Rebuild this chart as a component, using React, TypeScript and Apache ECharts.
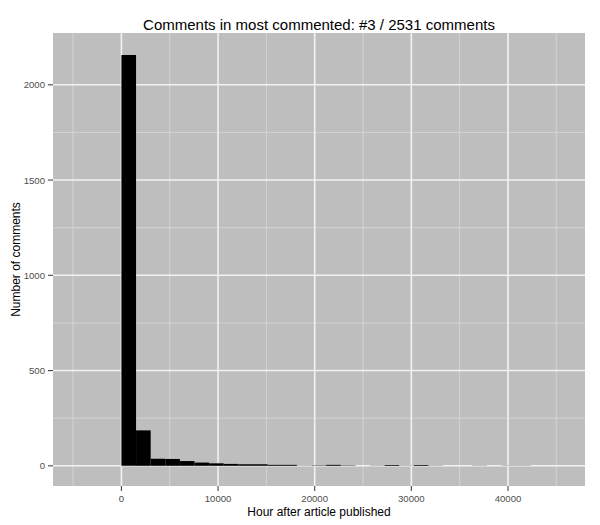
import React, { useEffect, useRef } from "react";
import * as echarts from "echarts";

const TITLE = "Comments in most commented: #3 / 2531 comments";
const X_TITLE = "Hour after article published";
const Y_TITLE = "Number of comments";

const BIN_WIDTH = 1513;
const COUNTS = [2157, 186, 37, 36, 25, 17, 13, 10, 8, 8, 5, 5, 1, 2, 5, 2, 0, 1, 4, 1, 4, 1, 0, 0, 1, 0, 1, 1];

const X_BREAKS = [0, 10000, 20000, 30000, 40000];
const X_MINOR = [-5000, 5000, 15000, 25000, 35000, 45000];
const Y_BREAKS = [0, 500, 1000, 1500, 2000];
const Y_MINOR = [250, 750, 1250, 1750];

const X_MIN = -7080;
const X_MAX = 47970;
const Y_MIN = -106;
const Y_MAX = 2272;

const FONT = "'Liberation Sans', Arial, Helvetica, sans-serif";

export default function App() {
  const ref = useRef<HTMLDivElement>(null);
  useEffect(() => {
    if (!ref.current) return;
    const chart = echarts.init(ref.current, undefined, { renderer: "svg" });

    const bins = COUNTS.map((c, i) => [i * BIN_WIDTH, (i + 1) * BIN_WIDTH, c]);
    const gridData: number[][] = [
      ...X_MINOR.map((v) => [0, v, 0]),
      ...Y_MINOR.map((v) => [1, v, 0]),
      ...X_BREAKS.map((v) => [0, v, 1]),
      ...Y_BREAKS.map((v) => [1, v, 1]),
    ];

    const titleGraphic = {
      id: "title",
      type: "text",
      x: 319,
      y: 24,
      style: {
        text: TITLE,
        fill: "#000",
        font: `15px ${FONT}`,
        textAlign: "center",
        textVerticalAlign: "middle",
      },
    };

    chart.setOption({
      animation: false,
      textStyle: { fontFamily: FONT },
      graphic: [titleGraphic],
      grid: {
        left: 53,
        right: 15,
        top: 33,
        bottom: 39,
        containLabel: false,
        outerBoundsMode: "none",
        show: true,
        backgroundColor: "#BEBEBE",
        borderWidth: 0,
      },
      xAxis: {
        type: "value",
        min: X_MIN,
        max: X_MAX,
        name: X_TITLE,
        nameLocation: "middle",
        nameGap: 20,
        nameMoveOverlap: false,
        nameTextStyle: { color: "#000", fontSize: 12, fontFamily: FONT },
        axisLine: { show: false },
        splitLine: { show: false },
        axisTick: { show: false },
        axisLabel: {
          customValues: X_BREAKS,
          color: "#4D4D4D",
          fontSize: 9.6,
          fontFamily: FONT,
          margin: 7,
          formatter: (v: number) => String(v),
        },
      },
      yAxis: {
        type: "value",
        min: Y_MIN,
        max: Y_MAX,
        name: Y_TITLE,
        nameLocation: "middle",
        nameGap: 31,
        nameMoveOverlap: false,
        nameRotate: 90,
        nameTextStyle: { color: "#000", fontSize: 12, fontFamily: FONT },
        axisLine: { show: false },
        splitLine: { show: false },
        axisTick: { show: false },
        axisLabel: {
          customValues: Y_BREAKS,
          color: "#4D4D4D",
          fontSize: 9.6,
          fontFamily: FONT,
          margin: 8,
          formatter: (v: number) => String(v),
        },
      },
      series: [
        {
          type: "custom",
          name: "grid",
          silent: true,
          z: 1,
          data: gridData,
          encode: { x: 1 },
          renderItem: (params: any, api: any) => {
            const cs = params.coordSys;
            const dir = api.value(0);
            const v = api.value(1);
            const major = api.value(2) === 1;
            const style = {
              stroke: major ? "#F2F2F2" : "#D4D4D4",
              lineWidth: major ? 1.6 : 1,
            };
            if (dir === 0) {
              const p = api.coord([v, 0]);
              return {
                type: "line",
                shape: { x1: p[0], y1: cs.y, x2: p[0], y2: cs.y + cs.height },
                style,
              };
            }
            const p = api.coord([0, v]);
            return {
              type: "line",
              shape: { x1: cs.x, y1: p[1], x2: cs.x + cs.width, y2: p[1] },
              style,
            };
          },
        },
        {
          type: "custom",
          name: "comments",
          z: 2,
          clip: true,
          data: bins,
          encode: { x: [0, 1], y: 2 },
          renderItem: (params: any, api: any) => {
            const p0 = api.coord([api.value(0), 0]);
            const p1 = api.coord([api.value(1), api.value(2)]);
            return {
              type: "rect",
              shape: {
                x: p0[0],
                y: p1[1],
                width: p1[0] - p0[0],
                height: p0[1] - p1[1],
              },
              style: { fill: "#000" },
            };
          },
        },
      ],
    });

    // Axis tick marks placed through the chart's own scales
    const tickGraphics: any[] = [];
    const tickStyle = { stroke: "#444", lineWidth: 1.1 };
    X_BREAKS.forEach((v, i) => {
      const p = chart.convertToPixel({ gridIndex: 0 }, [v, Y_MIN]) as number[];
      if (!p) return;
      tickGraphics.push({
        id: "xt" + i,
        type: "line",
        shape: { x1: p[0], y1: p[1], x2: p[0], y2: p[1] + 5 },
        style: tickStyle,
        silent: true,
      });
    });
    Y_BREAKS.forEach((v, i) => {
      const p = chart.convertToPixel({ gridIndex: 0 }, [X_MIN, v]) as number[];
      if (!p) return;
      tickGraphics.push({
        id: "yt" + i,
        type: "line",
        shape: { x1: p[0] - 5, y1: p[1], x2: p[0], y2: p[1] },
        style: tickStyle,
        silent: true,
      });
    });
    chart.setOption({ graphic: [titleGraphic, ...tickGraphics] });

    return () => chart.dispose();
  }, []);

  return (
    <div
      ref={ref}
      style={{ position: "fixed", left: 0, top: 0, width: 600, height: 525, background: "#fff" }}
    />
  );
}
